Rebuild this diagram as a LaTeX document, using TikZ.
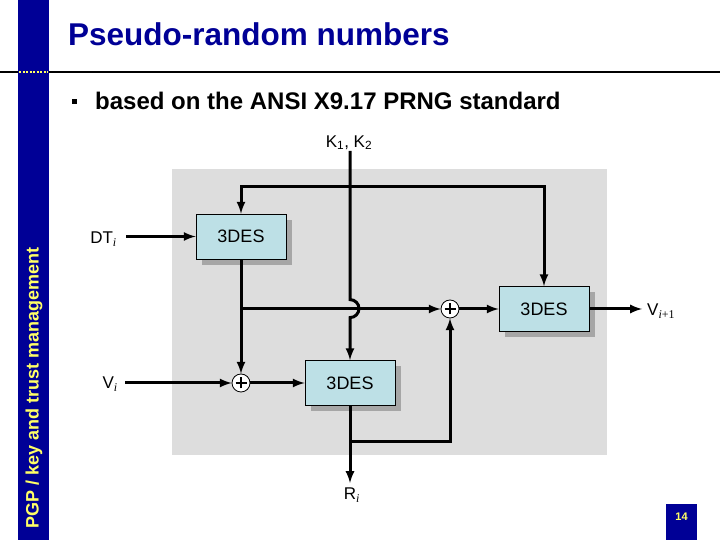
\documentclass[tikz,border=0pt]{standalone}
\usepackage{fontspec}
\setmainfont{Liberation Sans}
\newfontfamily\timesfont{Liberation Serif}
\usetikzlibrary{shadows}

\definecolor{slideblue}{RGB}{0,0,150}
\definecolor{slideyellow}{RGB}{255,255,102}
\definecolor{panelgray}{RGB}{221,221,221}
\definecolor{desfill}{RGB}{189,224,230}

\tikzset{
  des/.style={draw, line width=0.8pt, fill=desfill, minimum width=90pt, minimum height=45pt,
    font=\fontsize{18}{18}\selectfont,
    drop shadow={shadow xshift=6pt, shadow yshift=-6pt, fill=black!35, opacity=1}},
  xor/.style={circle, draw, line width=0.8pt, fill=white, minimum size=18pt, inner sep=0pt,
    path picture={\draw[line width=1.2pt]
      ([xshift=-5.5pt]path picture bounding box.center) -- ([xshift=5.5pt]path picture bounding box.center)
      ([yshift=-5.5pt]path picture bounding box.center) -- ([yshift=5.5pt]path picture bounding box.center);}},
  conn/.style={line width=3pt},
  lbl/.style={font=\fontsize{17}{17}\selectfont, inner sep=1pt},
}

\begin{document}
\begin{tikzpicture}[x=1pt,y=1pt]
    \useasboundingbox (0,0) rectangle (720,540);
    % slide frame
    \draw[line width=2pt] (0,468) -- (720,468);
    \fill[slideblue] (18,0) rectangle (49,540);
    \draw[slideyellow, line width=2pt, dash pattern=on 2pt off 1.5pt] (19,468) -- (48,468);
    \node[rotate=90, text=slideyellow, font=\bfseries\fontsize{18}{18}\selectfont] (side) at (34,152) {PGP / key and trust management};
    \node[anchor=base west, inner sep=0pt, text=slideblue, font=\bfseries\fontsize{31.5}{31.5}\selectfont] (title) at (68,494) {Pseudo-random numbers};
    \fill (72,436) rectangle (77,441);
    \node[anchor=base west, inner sep=0pt, font=\bfseries\fontsize{24}{24}\selectfont] (bullet) at (95,430) {based on the ANSI X9.17 PRNG standard};
    \fill[slideblue] (666,0) rectangle (697,36);
    \node[text=slideyellow, font=\bfseries\fontsize{11}{11}\selectfont] (pageno) at (681.5,23) {14};
    % panel
    \fill[panelgray] (172,85) rectangle (607,371);
    % blocks
    \node[des] (des1) at (241,303.5) {3DES};
    \node[des] (des2) at (350,157) {3DES};
    \node[des] (des3) at (544,231) {3DES};
    \node[xor] (xor1) at (241,157) {};
    \node[xor] (xor2) at (450,231) {};
    % labels
    \node[lbl, anchor=east] (dt) at (118,301) {DT\textsubscript{\timesfont\itshape i}};
    \node[lbl, anchor=east] (vi) at (119,156) {V\textsubscript{\timesfont\itshape i}};
    \node[lbl, anchor=west] (vnext) at (646,229) {V\textsubscript{\timesfont\itshape i\upshape +1}};
    \node[lbl, anchor=north] (ri) at (352,53) {R\textsubscript{\timesfont\itshape i}};
    \node[lbl, anchor=south] (keys) at (349,389) {K\textsubscript{1}, K\textsubscript{2}};
    \coordinate (ksplit) at (350,353);
    \coordinate (msplit) at (241,231);
    \coordinate (bsplit) at (350,98);
    % key line with jump
    \draw[conn,-latex] (keys.south -| des2.north) -- (des2.north |- xor2.north)
        arc[start angle=90, end angle=-90, radius=9] -- (des2.north);
    \draw[conn,-latex] (ksplit) -| (des1.north);
    \draw[conn,-latex] (ksplit) -| (des3.north);
    % inputs
    \draw[conn,-latex] ([xshift=8pt]dt.east |- des1.west) -- (des1.west);
    \draw[conn,-latex] ([xshift=6pt]vi.east |- xor1.west) -- (xor1.west);
    \draw[conn,-latex] (des1.south) -- (xor1.north);
    \draw[conn,-latex] (xor1.east) -- (des2.west);
    \draw[conn,-latex] (msplit) -- (xor2.west);
    \draw[conn,-latex] (xor2.east) -- (des3.west);
    % outputs
    \draw[conn,-latex] (des3.east) -- ([xshift=-4pt]vnext.west |- des3.east);
    \draw[conn,-latex] (bsplit) -| (xor2.south);
    \draw[conn,-latex] (des2.south) -- ([yshift=4pt]des2.south |- ri.north);
\end{tikzpicture}
\end{document}
